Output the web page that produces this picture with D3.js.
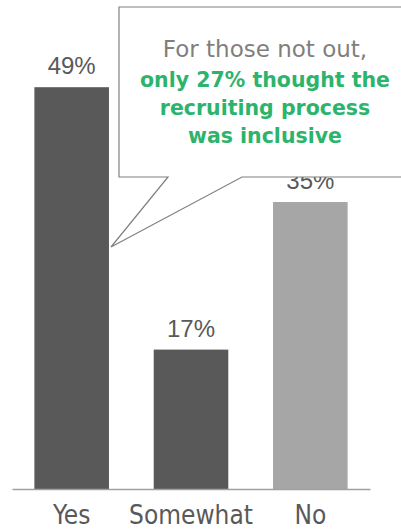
<!DOCTYPE html>
<html lang="en">
<head>
<meta charset="UTF-8">
<title>Recruiting inclusive</title>
<style>
  body { margin: 0; background: #fff; }
  .valor { font-family: "Liberation Sans", Arial, sans-serif; font-size: 24px; fill: #595959; }
  .cat { font-family: "DejaVu Sans", sans-serif; font-stretch: condensed; font-size: 26px; fill: #595959; }
  .nota { font-family: "DejaVu Sans", sans-serif; text-anchor: middle; }
</style>
<script src="https://cdn.jsdelivr.net/npm/d3@7"></script>
</head>
<body>
<script>
// datos
var categorias = ["Yes", "Somewhat", "No"];
var valores = [49, 17, 35];
var colores = ["#595959", "#595959", "#a6a6a6"];
var notaGris = "For those not out,";
var notaVerde = ["only 27% thought the", "recruiting process", "was inclusive"];

var ancho = 401, alto = 532;
var svg = d3.select("body").append("svg")
  .attr("width", ancho).attr("height", alto);

var x = d3.scaleBand().domain(categorias)
  .range([12, 370]).paddingInner(0.375).paddingOuter(0.1875);
var y = d3.scaleLinear().domain([0, 50]).range([489, 79]);

// barras
svg.selectAll("rect.barra").data(valores).enter().append("rect")
  .attr("class", "barra")
  .attr("x", function(d, i) { return x(categorias[i]); })
  .attr("y", function(d) { return y(d); })
  .attr("width", x.bandwidth())
  .attr("height", function(d) { return y(0) - y(d); })
  .attr("fill", function(d, i) { return colores[i]; });

// etiquetas de valor
svg.selectAll("text.valor").data(valores).enter().append("text")
  .attr("class", "valor")
  .attr("text-anchor", "middle")
  .attr("x", function(d, i) { return x(categorias[i]) + x.bandwidth() / 2; })
  .attr("y", function(d) { return y(d) - 13; })
  .text(function(d) { return d + "%"; });

// eje x (solo la linea base y los nombres)
var eje = svg.append("g").attr("transform", "translate(0," + y(0) + ")")
  .call(d3.axisBottom(x).tickSize(0).tickPadding(0));
eje.select(".domain").attr("stroke", "#a0a0a0").attr("stroke-width", 1.5);
eje.selectAll(".tick text").attr("class", "cat").attr("dy", null).attr("y", 35);
eje.attr("font-size", null).attr("font-family", null);

// bocadillo
svg.append("path")
  .attr("d", "M119,7 H404 V177 H242 L111,247 L168,177 H119 Z")
  .attr("fill", "#fff").attr("stroke", "#808080").attr("stroke-width", 1.2);

svg.append("text").attr("class", "nota")
  .attr("x", 265).attr("y", 57)
  .attr("font-size", 23).attr("fill", "#7f7f7f")
  .text(notaGris);

svg.selectAll("text.verde").data(notaVerde).enter().append("text")
  .attr("class", "nota verde")
  .attr("x", 265).attr("y", function(d, i) { return 87 + i * 28; })
  .attr("font-size", 20.5).attr("font-weight", "bold").attr("fill", "#2db46c")
  .text(function(d) { return d; });
</script>
</body>
</html>
